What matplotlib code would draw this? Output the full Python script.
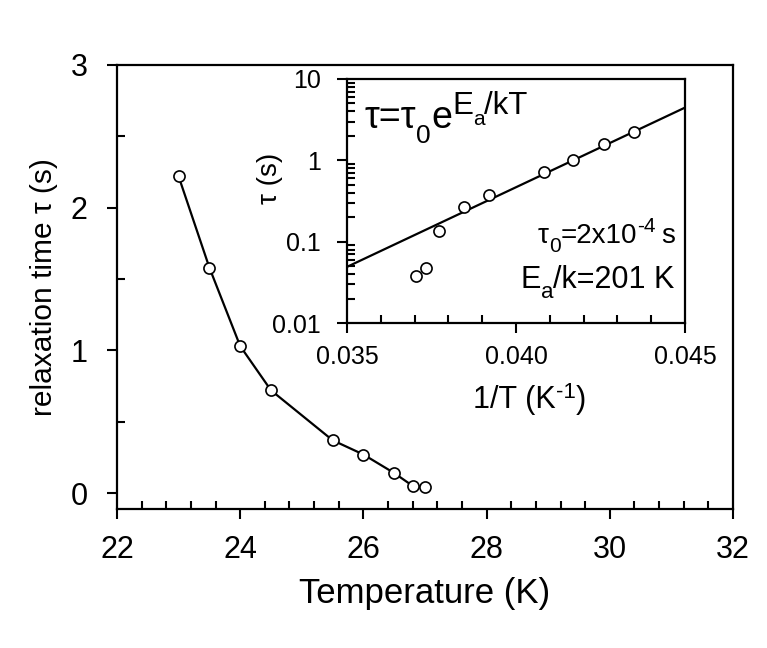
import matplotlib
matplotlib.use('Agg')
import matplotlib.pyplot as plt
from matplotlib.transforms import offset_copy
from matplotlib.ticker import MultipleLocator, FixedLocator, FixedFormatter, LogLocator, NullFormatter

plt.rcParams['font.family'] = ['Liberation Sans', 'DejaVu Sans']

# main panel: relaxation time vs temperature
temperature = [23.0, 23.5, 24.0, 24.5, 25.5, 26.0, 26.5, 26.8, 27.0]
tau_main = [2.22, 1.58, 1.03, 0.72, 0.37, 0.27, 0.14, 0.05, 0.04]

# inset: Arrhenius plot
inv_T = [0.03703, 0.03733, 0.03773, 0.03847, 0.03919, 0.04084, 0.04170, 0.04260, 0.04349]
tau_inset = [0.038, 0.048, 0.135, 0.27, 0.38, 0.71, 1.01, 1.58, 2.21]
fit_x = [0.035, 0.045]
fit_tau = [0.049, 4.45]

fig = plt.figure(figsize=(7.67, 6.48), dpi=100)


def rich_text(ax, x, y, parts, ha='left'):
    # parts: (text, fontsize, baseline shift in pt) or a float gap in pt
    renderer = fig.canvas.get_renderer()
    widths = []
    for p in parts:
        if isinstance(p, (int, float)):
            widths.append(p)
            continue
        t = ax.text(0, 0, p[0], fontsize=p[1], transform=ax.transAxes)
        widths.append(t.get_window_extent(renderer).width * 72 / fig.dpi)
        t.remove()
    total = sum(widths)
    dx = {'left': 0, 'center': -total / 2, 'right': -total}[ha]
    for p, w in zip(parts, widths):
        if not isinstance(p, (int, float)):
            tr = offset_copy(ax.transAxes, fig=fig, x=dx, y=p[2], units='points')
            ax.text(x, y, p[0], fontsize=p[1], transform=tr,
                    ha='left', va='baseline', clip_on=False)
        dx += w


ax = fig.add_axes([0.1525, 0.2145, 0.8032, 0.6852])
ax.plot(temperature, tau_main, color='black', lw=1.6, marker='o', ms=8,
        mfc='white', mec='black', mew=1.2)
ax.set_xlim(22, 32)
ax.set_ylim(-0.112, 3.0)
ax.xaxis.set_major_locator(MultipleLocator(2))
ax.xaxis.set_minor_locator(MultipleLocator(0.4))
ax.yaxis.set_major_locator(MultipleLocator(1))
ax.yaxis.set_minor_locator(MultipleLocator(0.5))
ax.tick_params(which='major', direction='out', length=7, width=1.5, labelsize=22)
ax.tick_params(which='minor', direction='in', length=6, width=1.5)
ax.tick_params(axis='x', which='major', pad=12)
ax.tick_params(axis='y', which='major', pad=14)
for s in ax.spines.values():
    s.set_linewidth(1.6)
ax.set_xlabel('Temperature (K)', fontsize=25, labelpad=8)
ax.set_ylabel('relaxation time τ (s)', fontsize=21.5, labelpad=9)

# inset
axi = fig.add_axes([0.4524, 0.5015, 0.4407, 0.3766])
axi.plot(inv_T, tau_inset, linestyle='none', marker='o', ms=8,
         mfc='white', mec='black', mew=1.2, zorder=3)
axi.plot(fit_x, fit_tau, color='black', lw=1.6)
axi.set_yscale('log')
axi.set_xlim(0.035, 0.045)
axi.set_ylim(0.01, 10)
axi.xaxis.set_major_locator(FixedLocator([0.035, 0.040, 0.045]))
axi.xaxis.set_major_formatter(FixedFormatter(['0.035', '0.040', '0.045']))
axi.xaxis.set_minor_locator(MultipleLocator(0.001))
axi.yaxis.set_major_locator(FixedLocator([0.01, 0.1, 1, 10]))
axi.yaxis.set_major_formatter(FixedFormatter(['0.01', '0.1', '1', '10']))
axi.yaxis.set_minor_locator(LogLocator(base=10, subs=range(2, 10)))
axi.yaxis.set_minor_formatter(NullFormatter())
axi.tick_params(which='major', direction='out', length=7, width=1.5, labelsize=18)
axi.tick_params(which='minor', direction='in', length=6, width=1.5)
axi.tick_params(axis='x', which='major', pad=9)
axi.tick_params(axis='y', which='major', pad=12)
for s in axi.spines.values():
    s.set_linewidth(1.6)
axi.text(-0.228, 0.594, 'τ (s)', transform=axi.transAxes, rotation=90,
         ha='center', va='center', fontsize=20)

rich_text(axi, 0.541, -0.348, [('1/T (K', 22, 0), ('-1', 16, 7), (')', 22, 0)],
          ha='center')
rich_text(axi, 0.053, 0.799, [('τ=τ', 27, 0), ('0', 19, -11), ('e', 27, 0),
                              ('E', 22.5, 10), ('a', 15, 2), ('/kT', 22.5, 10)])
rich_text(axi, 0.970, 0.328, [('τ', 20, 0), ('0', 15, -6.5), ('=2x10', 20, 0),
                              ('-4', 15, 8), 4.0, ('s', 20, 0)], ha='right')
rich_text(axi, 0.970, 0.143, [('E', 22, 0), ('a', 16, -7), ('/k=201 K', 22, 0)],
          ha='right')

fig.savefig('out.png', dpi=100)
